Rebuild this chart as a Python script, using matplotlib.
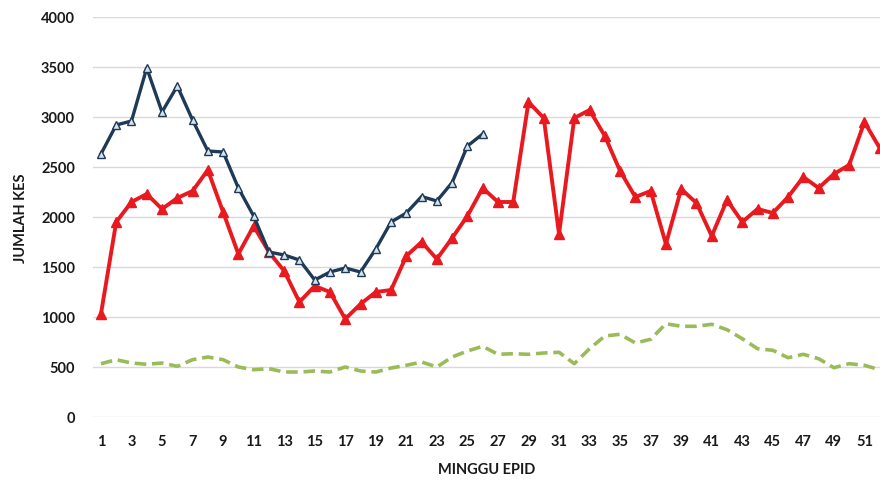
import matplotlib
matplotlib.use("Agg")
import matplotlib.pyplot as plt

weeks = list(range(1, 53))

series_navy = [2630, 2920, 2960, 3490, 3050, 3310, 2970, 2660, 2650, 2290,
               2010, 1650, 1620, 1570, 1370, 1450, 1490, 1450, 1680, 1950,
               2040, 2205, 2160, 2345, 2710, 2830]

series_red = [1030, 1950, 2150, 2230, 2080, 2190, 2260, 2470, 2050, 1630,
              1910, 1650, 1460, 1150, 1310, 1250, 980, 1130, 1250, 1270,
              1610, 1750, 1580, 1790, 2010, 2290, 2150, 2150, 3150, 2990,
              1830, 2990, 3070, 2810, 2460, 2200, 2260, 1730, 2280, 2140,
              1810, 2170, 1950, 2080, 2040, 2200, 2400, 2290, 2430, 2520,
              2950, 2690]

series_green = [533, 573, 540, 527, 540, 507, 573, 600, 573, 500,
                473, 483, 450, 450, 460, 450, 500, 460, 450, 490,
                517, 550, 500, 600, 660, 707, 627, 633, 627, 640,
                647, 533, 683, 810, 827, 740, 777, 933, 907, 907,
                927, 873, 783, 683, 667, 593, 627, 583, 493, 533,
                517, 473]

xticks = list(range(1, 52, 2))
yticks = list(range(0, 4001, 500))

plt.rcParams['font.family'] = ['Lato', 'DejaVu Sans']

fig = plt.figure(figsize=(8.8, 4.81), dpi=100)
ax = fig.add_axes([93/880, (481-418)/481, 1 - 93/880, 400/481])

ax.plot(weeks, series_green, color='#9BBB59', lw=2.6, ls=(0, (3.2, 1.6)), zorder=2)
ax.plot(weeks, series_red, color='#E8191F', lw=2.8, marker='^', ms=6.5,
        mfc='#E8191F', mec='#E8191F', zorder=3)
ax.plot(weeks[:len(series_navy)], series_navy, color='#1F3A57', lw=2.4, marker='^',
        ms=5.5, mfc='#D5E3EC', mec='#1F3A57', mew=1.0, zorder=4)

ax.set_xlim(0.48, 52.02)
ax.set_ylim(0, 4000)
ax.set_xticks(xticks)
ax.set_xticklabels([str(t) for t in xticks])
ax.set_yticks(yticks)
ax.set_yticklabels([str(t) for t in yticks])
ax.grid(axis='y', color='#D9D9D9', lw=1.0, zorder=0)
ax.set_axisbelow(True)
for s in ax.spines.values():
    s.set_visible(False)
ax.tick_params(length=0, labelsize=10.5, colors='#1a1a1a')
ax.tick_params(axis='x', pad=12)
ax.tick_params(axis='y', pad=13)
for lab in ax.get_xticklabels() + ax.get_yticklabels():
    lab.set_fontweight('bold')

ax.set_xlabel('MINGGU EPID', fontsize=10.5, fontweight='bold', color='#1a1a1a', labelpad=10)
ax.set_ylabel('JUMLAH KES', fontsize=10.5, fontweight='bold', color='#1a1a1a', labelpad=9)

fig.savefig('out.png', dpi=100)
